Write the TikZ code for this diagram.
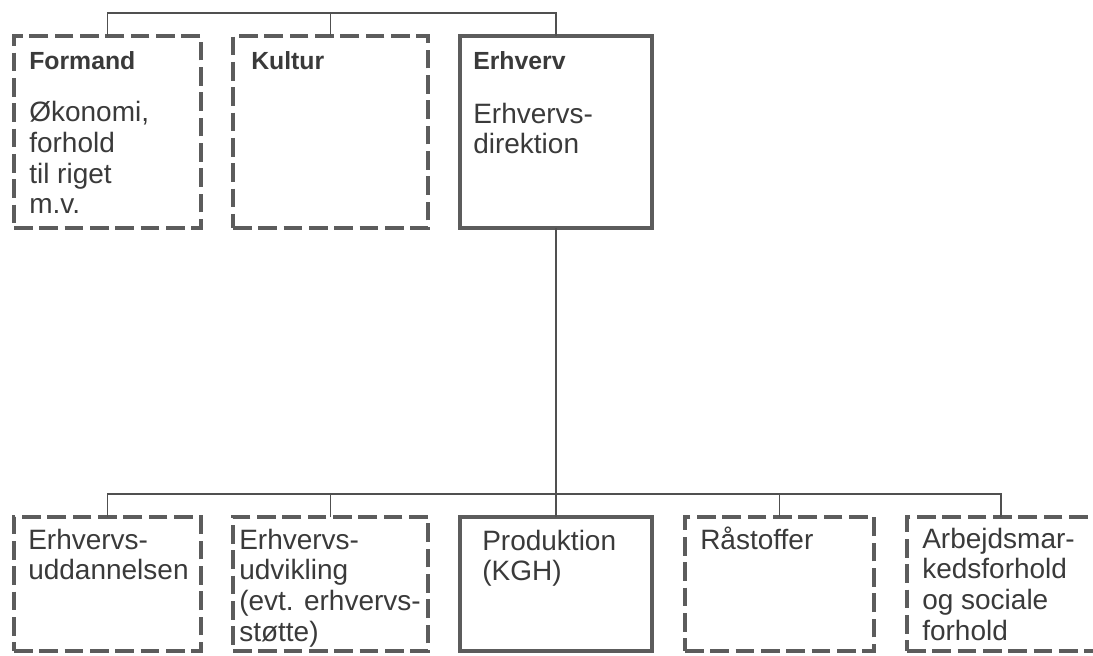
\documentclass[tikz,border=0pt]{standalone}
\usepackage{fontspec}
\setmainfont{Liberation Sans}
\newcommand\pxu{0.75pt}
\definecolor{boxgray}{RGB}{92,92,92}
\definecolor{txtgray}{RGB}{58,58,58}
\definecolor{linegray}{RGB}{80,80,80}
\begin{document}
\begin{tikzpicture}[x=0.75pt,y=-0.75pt,
  box/.style={draw=boxgray, line width=3.4pt, rectangle, inner sep=0pt, outer sep=0pt},
  dbox/.style={box, dash pattern=on 14pt off 5pt},
  topbox/.style={minimum height=192*\pxu},
  botbox/.style={minimum height=134*\pxu},
  conn/.style={draw=linegray, line width=1.1pt},
  head/.style={anchor=base west, inner sep=0pt, text=txtgray, font=\fontsize{18.6pt}{22pt}\selectfont\bfseries},
  body/.style={anchor=base west, inner sep=0pt, text=txtgray, align=left, font=\fontsize{21pt}{23pt}\selectfont}]
\useasboundingbox (0,0) rectangle (1093,656);
% top row
\node[dbox, topbox, minimum width=187*\pxu] (formand) at (107.5,132) {};
\node[dbox, topbox, minimum width=195*\pxu] (kultur) at (330.5,132) {};
\node[box, topbox, minimum width=192*\pxu] (erhverv) at (556,132) {};
% bottom row
\node[dbox, botbox, minimum width=187*\pxu] (udd) at (107.5,584) {};
\node[dbox, botbox, minimum width=195*\pxu] (udv) at (330.5,584) {};
\node[box, botbox, minimum width=192*\pxu] (prod) at (556,584) {};
\node[dbox, botbox, minimum width=189*\pxu] (raa) at (779.5,584) {};
\node[dbox, botbox, minimum width=188*\pxu] (arb) at (1001,584) {};
% connectors
\coordinate (tb) at (330.5,13);
\coordinate (bb) at (556,494);
\draw[conn] (formand.north) |- (tb) -| (erhverv.north);
\draw[conn] (kultur.north) -- (kultur.north |- tb);
\draw[conn] (erhverv.south) -- (prod.north);
\draw[conn] (udd.north) |- (bb) -| (arb.north);
\draw[conn] (udv.north) -- (udv.north |- bb);
\draw[conn] (raa.north) -- (raa.north |- bb);
% texts (multi-line nodes: base = baseline of last line)
\node[head] (tformand) at (29,70) {Formand};
\node[body] (bformand) at (29,214) {Økonomi,\\forhold\\til riget\\m.v.};
\node[head] (tkultur) at (251,70) {Kultur};
\node[head] (terhverv) at (473,70) {Erhverv};
\node[body] (berhverv) at (473,153.7) {Erhvervs-\\direktion};
\node[body] (tudd) at (28,579.7) {Erhvervs-\\uddannelsen};
\node[body] (tudv) at (239,641) {Erhvervs-\\udvikling\\(evt. erhvervs-\\støtte)};
\node[body] (tprod) at (482,580.7) {Produktion\\(KGH)};
\node[body] (traa) at (700,549) {Råstoffer};
\node[body] (tarb) at (922,640) {Arbejdsmar-\\kedsforhold\\og sociale\\forhold};
\end{tikzpicture}
\end{document}
